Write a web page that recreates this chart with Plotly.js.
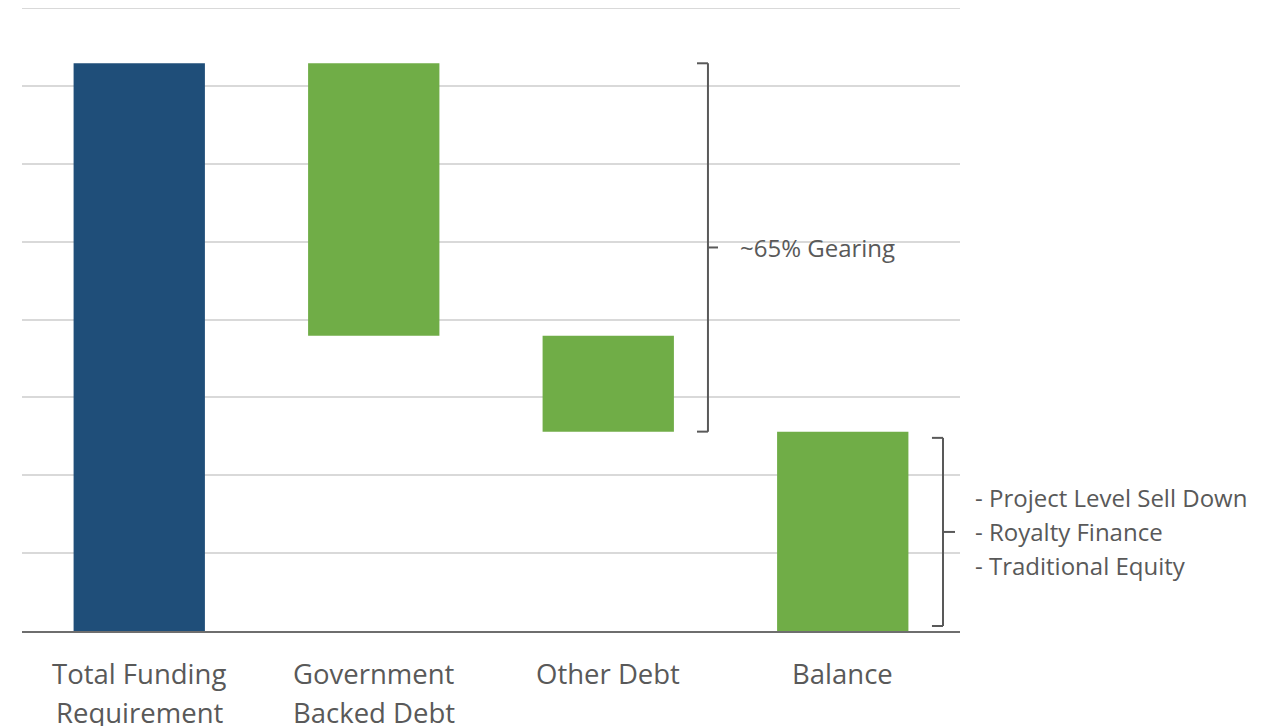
<!DOCTYPE html>
<html>
<head>
<meta charset="utf-8">
<script src="https://cdn.plot.ly/plotly-3.0.1.min.js"></script>
<style>html,body{margin:0;padding:0;background:#fff;}#chart{width:1268px;height:726px;}</style>
</head>
<body>
<div id="chart"></div>
<script>
const categories = ['Total Funding Requirement', 'Government Backed Debt', 'Other Debt', 'Balance'];
const tickLines = [['Total Funding', 'Requirement'], ['Government', 'Backed Debt'], ['Other Debt'], ['Balance']];
const totalFunding = 72.9;
const governmentBackedDebt = 35.0;
const otherDebt = 12.3;
const balance = 25.6;
const values = [totalFunding, governmentBackedDebt, otherDebt, balance];
const barColors = ['#1F4E79', '#70AD47', '#70AD47', '#70AD47'];
const gearingLabel = '~65% Gearing';
const equityLines = ['- Project Level Sell Down', '- Royalty Finance', '- Traditional Equity'];

const govBase = totalFunding - governmentBackedDebt;
const otherBase = govBase - otherDebt;
const bases = [0, govBase, otherBase, 0];

const txtColor = '#595959';
const font = 'Open Sans, sans-serif';
const yMax = 80;

const trace = {
  type: 'bar',
  x: categories,
  y: values,
  base: bases,
  marker: {color: barColors, line: {width: 0}},
  width: 0.56,
  hoverinfo: 'skip'
};

function bracket(x0, xv, xt, yTop, yBot) {
  const yMid = (yTop + yBot) / 2;
  const ln = {color: txtColor, width: 2};
  const s = (a, b, c, d) => ({type: 'line', xref: 'paper', yref: 'y', x0: a, y0: b, x1: c, y1: d, line: ln, layer: 'above'});
  return [
    s(x0, yTop, xv, yTop),
    s(xv, yTop, xv, yBot),
    s(x0, yBot, xv, yBot),
    s(xv, yMid, xt, yMid)
  ];
}

const g1Top = totalFunding, g1Bot = otherBase, g1Mid = (g1Top + g1Bot) / 2;
const g2Top = balance - 0.8, g2Bot = 0.64, g2Mid = (g2Top + g2Bot) / 2;

const shapes = [].concat(
  [{type: 'line', xref: 'paper', yref: 'y', x0: 0, x1: 1, y0: yMax, y1: yMax,
    line: {color: '#d9d9d9', width: 2}, layer: 'below'}],
  [{type: 'rect', xref: 'paper', yref: 'y', x0: 0.742, x1: 0.968, y0: g1Mid - 1.2, y1: g1Mid + 2.2,
    fillcolor: '#ffffff', line: {width: 0}, layer: 'between'}],
  bracket(0.7196, 0.7313, 0.742, g1Top, g1Bot),
  bracket(0.9701, 0.9819, 0.9947, g2Top, g2Bot)
);

const annotations = [
  {xref: 'paper', yref: 'y', x: 0.7633, y: g1Mid, xanchor: 'left', yanchor: 'middle', showarrow: false,
   text: gearingLabel, font: {family: font, size: 24, color: txtColor}}
];
equityLines.forEach((t, i) => {
  annotations.push({xref: 'paper', yref: 'y', x: 1.0139, y: g2Mid, yshift: (1 - i) * 34,
    xanchor: 'left', yanchor: 'middle', showarrow: false, align: 'left',
    text: t, font: {family: font, size: 24, color: txtColor}});
});
tickLines.forEach((lines, ci) => {
  lines.forEach((t, li) => {
    annotations.push({xref: 'x', yref: 'paper', x: categories[ci], y: 0, yshift: -(42 + li * 39),
      xanchor: 'center', yanchor: 'middle', showarrow: false,
      text: t, font: {family: font, size: 27.5, color: txtColor}});
  });
});

const layout = {
  width: 1268, height: 726,
  margin: {l: 22, r: 308, t: 8, b: 95},
  paper_bgcolor: '#ffffff', plot_bgcolor: '#ffffff',
  showlegend: false,
  font: {family: font, color: txtColor},
  xaxis: {
    type: 'category', range: [-0.5, 3.5], showgrid: false, zeroline: false,
    showline: true, linecolor: '#6e6e6e', linewidth: 2, ticks: '', showticklabels: false,
    automargin: false, fixedrange: true
  },
  yaxis: {
    range: [0, yMax], dtick: 10, showticklabels: false, ticks: '',
    showgrid: true, gridcolor: '#d9d9d9', gridwidth: 2, zeroline: false, showline: false,
    automargin: false, fixedrange: true
  },
  shapes: shapes,
  annotations: annotations
};

Plotly.newPlot('chart', [trace], layout, {displayModeBar: false, staticPlot: true});
</script>
</body>
</html>
